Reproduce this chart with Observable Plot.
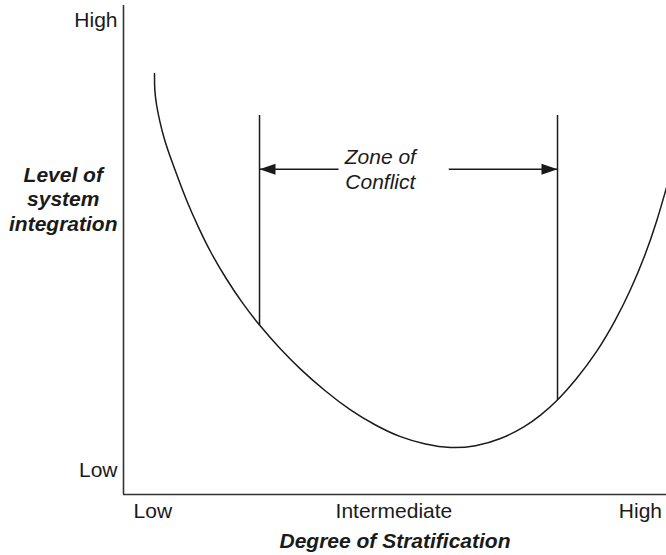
<!DOCTYPE html>
<html>
<head>
<meta charset="utf-8">
<script src="https://cdn.jsdelivr.net/npm/d3@7"></script>
<script src="https://cdn.jsdelivr.net/npm/@observablehq/plot@0.6"></script>
<style>
  html, body { margin: 0; padding: 0; background: #fff; }
  #chart { width: 666px; height: 555px; }
</style>
</head>
<body>
<div id="chart"></div>
<script>
// ---- data (x: degree of stratification 0–100, y: level of integration 0–100) ----
const curveX = [5.71, 5.71, 6.08, 6.63, 7.55, 8.84, 10.13, 11.60, 13.63, 16.02, 18.97, 21.92, 25.05, 28.91, 32.60, 37.20, 41.80, 46.41, 51.01, 55.62, 60.22, 64.83, 69.43, 74.03, 76.80, 79.93, 83.24, 87.29, 90.61, 93.37, 96.13, 98.16, 100];
const curveY = [86.09, 82.62, 79.55, 76.48, 72.39, 68.30, 64.42, 60.12, 55.01, 49.49, 43.97, 39.06, 34.56, 29.65, 25.56, 21.06, 17.18, 14.11, 11.66, 10.22, 9.41, 9.82, 11.25, 13.91, 16.16, 19.22, 23.31, 29.24, 35.58, 41.72, 49.08, 55.62, 62.78];

const zoneX = [25.05, 79.93];       // boundaries of the zone of conflict
const zoneTop = [77.5, 77.5];
const zoneBottom = [34.56, 19.22];  // where boundaries meet the curve

const arrowY = 66.5;
const arrowFrom = [39.6, 59.9];
const arrowTo = [25.05, 79.93];
const arrowRotate = [180, 0];

const zoneLabel = "Zone of\nConflict";
const zoneLabelX = 47.3;
const zoneLabelY = 66.6;

const xTickLabels = ["Low", "Intermediate", "High"];
const xTickPos = [5.4, 49.8, 95.2];
const yTickLabels = ["Low", "High"];
const yTickPos = [4.9, 96.9];

const xTitle = "Degree of Stratification";
const yTitle = "Level of\nsystem\nintegration";
const yTitleX = -11.1;
const yTitleY = 60.5;

// ---- build ----
const curve = curveX.map((x, i) => ({x, y: curveY[i]}));
const zone = zoneX.map((x, i) => ({x, y1: zoneBottom[i], y2: zoneTop[i]}));
const arrows = arrowFrom.map((x1, i) => ({x1, x2: arrowTo[i], y: arrowY, rotate: arrowRotate[i]}));

const arrowHead = {
  draw(ctx) {
    ctx.moveTo(0, 0);
    ctx.lineTo(-16, -5.5);
    ctx.lineTo(-16, 5.5);
    ctx.closePath();
  }
};

const font = "'Liberation Sans', Arial, Helvetica, sans-serif";
const ink = "#1a1a1a";

const chart = Plot.plot({
  width: 666,
  height: 555,
  marginLeft: 123,
  marginRight: 0,
  marginTop: 5,
  marginBottom: 61,
  x: {domain: [0, 100], axis: null},
  y: {domain: [0, 100], axis: null},
  style: {fontFamily: font, background: "#fff", overflow: "visible"},
  marks: [
    Plot.ruleX([0], {stroke: "#333", strokeWidth: 1.6}),
    Plot.ruleY([0], {stroke: "#333", strokeWidth: 1.6}),
    Plot.line(curve, {x: "x", y: "y", curve: "basis", stroke: ink, strokeWidth: 1.5}),
    Plot.ruleX(zone, {x: "x", y1: "y1", y2: "y2", stroke: ink, strokeWidth: 1.5}),
    Plot.link(arrows, {x1: "x1", x2: "x2", y1: "y", y2: "y", stroke: ink, strokeWidth: 1.5}),
    Plot.dot(arrows, {x: "x2", y: "y", symbol: arrowHead, rotate: "rotate", fill: ink, stroke: "none"}),
    Plot.text([zoneLabel], {x: () => zoneLabelX, y: () => zoneLabelY, text: d => d, fontSize: 21, fontStyle: "italic", fill: ink, lineHeight: 1.2, textAnchor: "middle", lineAnchor: "middle"}),
    Plot.text(xTickLabels, {x: (d, i) => xTickPos[i], y: () => 0, text: d => d, fontSize: 21, fill: ink, dy: 17, lineAnchor: "middle", textAnchor: "middle"}),
    Plot.text(yTickLabels, {x: () => 0, y: (d, i) => yTickPos[i], text: d => d, fontSize: 21, fill: ink, dx: -6, textAnchor: "end", lineAnchor: "middle"}),
    Plot.text([xTitle], {x: () => 50, y: () => 0, text: d => d, fontSize: 21, fontWeight: "bold", fontStyle: "italic", fill: ink, dy: 47, textAnchor: "middle", lineAnchor: "middle"}),
    Plot.text([yTitle], {x: () => yTitleX, y: () => yTitleY, text: d => d, fontSize: 21, fontWeight: "bold", fontStyle: "italic", fill: ink, lineHeight: 1.15, textAnchor: "middle", lineAnchor: "middle"})
  ]
});

document.getElementById("chart").appendChild(chart);
</script>
</body>
</html>
